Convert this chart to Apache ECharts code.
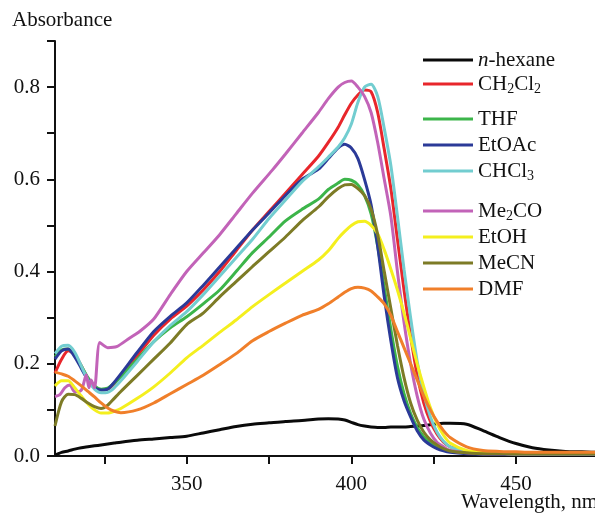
<!DOCTYPE html>
<html><head><meta charset="utf-8">
<script src="https://cdn.jsdelivr.net/npm/echarts@6/dist/echarts.min.js"></script>
<style>html,body{margin:0;padding:0;background:#fff}#c{width:595px;height:513px}</style>
</head><body><div id="c"></div><script>
// ---- data ----
const wavelength = [310,312,314,316,318,320,322,324,326,328,330,335,340,345,350,355,360,365,370,375,380,385,390,393,396,398,400,402,404,406,408,410,412,414,416,418,420,422,424,426,428,430,435,440,445,450,455,460,465,470,475,480];

const hexane = [0.002,0.008,0.011,0.015,0.018,0.02,0.022,0.024,0.026,0.028,0.03,0.034,0.037,0.04,0.043,0.05,0.057,0.064,0.069,0.072,0.075,0.077,0.08,0.081,0.08,0.078,0.073,0.068,0.065,0.063,0.062,0.062,0.063,0.063,0.063,0.064,0.065,0.066,0.068,0.07,0.071,0.071,0.069,0.055,0.04,0.027,0.018,0.013,0.01,0.009,0.008,0.008];
const ch2cl2 = [0.18,0.21,0.228,0.22,0.195,0.168,0.15,0.143,0.145,0.157,0.175,0.218,0.262,0.297,0.325,0.36,0.4,0.445,0.49,0.53,0.57,0.61,0.65,0.68,0.713,0.74,0.765,0.783,0.794,0.79,0.745,0.665,0.58,0.47,0.36,0.26,0.175,0.115,0.075,0.048,0.03,0.02,0.01,0.007,0.006,0.005,0.005,0.005,0.005,0.005,0.005,0.005];
const thf = [0.215,0.23,0.232,0.218,0.195,0.17,0.152,0.145,0.147,0.158,0.172,0.21,0.248,0.278,0.302,0.33,0.36,0.4,0.441,0.475,0.51,0.535,0.557,0.578,0.592,0.6,0.598,0.588,0.565,0.525,0.455,0.365,0.275,0.195,0.135,0.092,0.062,0.042,0.03,0.021,0.015,0.011,0.007,0.005,0.005,0.005,0.005,0.005,0.005,0.005,0.005,0.005];
const etoac = [0.21,0.228,0.232,0.215,0.19,0.165,0.148,0.143,0.145,0.16,0.178,0.225,0.27,0.303,0.332,0.37,0.41,0.45,0.49,0.527,0.565,0.6,0.622,0.645,0.668,0.676,0.668,0.645,0.6,0.545,0.455,0.345,0.25,0.17,0.12,0.085,0.055,0.035,0.024,0.016,0.011,0.008,0.005,0.004,0.004,0.004,0.004,0.004,0.004,0.004,0.004,0.004];
const chcl3 = [0.222,0.238,0.24,0.225,0.195,0.165,0.145,0.137,0.138,0.148,0.163,0.205,0.248,0.283,0.313,0.35,0.39,0.43,0.47,0.515,0.555,0.595,0.627,0.648,0.67,0.69,0.72,0.767,0.8,0.806,0.78,0.71,0.63,0.52,0.405,0.3,0.205,0.135,0.085,0.052,0.032,0.02,0.01,0.007,0.006,0.005,0.005,0.005,0.005,0.005,0.005,0.005];
const etoh = [0.152,0.163,0.163,0.148,0.13,0.113,0.1,0.093,0.093,0.097,0.103,0.125,0.15,0.18,0.213,0.24,0.268,0.295,0.324,0.35,0.375,0.4,0.425,0.445,0.472,0.487,0.5,0.508,0.509,0.5,0.482,0.447,0.405,0.36,0.31,0.255,0.2,0.15,0.105,0.07,0.045,0.028,0.012,0.008,0.006,0.005,0.005,0.005,0.005,0.005,0.005,0.005];
const mecn = [0.065,0.118,0.134,0.133,0.125,0.115,0.107,0.103,0.11,0.125,0.14,0.175,0.21,0.245,0.285,0.31,0.345,0.378,0.411,0.443,0.475,0.51,0.54,0.562,0.58,0.588,0.589,0.58,0.565,0.535,0.48,0.4,0.32,0.24,0.17,0.115,0.078,0.052,0.035,0.024,0.016,0.011,0.007,0.005,0.005,0.005,0.005,0.005,0.005,0.005,0.005,0.005];
const dmf = [0.182,0.178,0.173,0.163,0.152,0.14,0.128,0.115,0.104,0.097,0.094,0.1,0.115,0.135,0.155,0.175,0.198,0.222,0.25,0.27,0.288,0.305,0.318,0.33,0.345,0.355,0.363,0.366,0.364,0.358,0.345,0.33,0.305,0.27,0.235,0.2,0.165,0.13,0.1,0.075,0.055,0.04,0.02,0.012,0.01,0.009,0.008,0.008,0.008,0.008,0.008,0.008];

// Me2CO has its own finer sampling (jagged start)
const me2coWavelength = [310,311.5,313,314.5,316,318,319.5,320.3,321,322,323.6,326,328.7,332.7,335.7,340,345,350,355,360,365,370,376,380,385,390,393,396,398,400,402,404,406,408,410,412,414,416,418,420,422,424,426,428,430,435,440,445,450,460,470,480];
const me2co = [0.129,0.133,0.148,0.154,0.139,0.143,0.176,0.148,0.165,0.148,0.246,0.235,0.237,0.256,0.27,0.297,0.35,0.40,0.44,0.48,0.525,0.57,0.62,0.655,0.70,0.745,0.775,0.80,0.81,0.813,0.8,0.78,0.745,0.68,0.6,0.52,0.4,0.29,0.2,0.13,0.08,0.05,0.03,0.02,0.012,0.007,0.005,0.005,0.005,0.005,0.005,0.005];

const xTickValues = [325,350,375,400,425,450];
const xLabelValues = [350,400,450];

const seriesNames = ['n-hexane','CH2Cl2','THF','EtOAc','CHCl3','Me2CO','EtOH','MeCN','DMF'];
const legendText = {
  'n-hexane': '{i|n}-hexane', 'CH2Cl2': 'CH{s|2}Cl{s|2}', 'THF': 'THF', 'EtOAc': 'EtOAc',
  'CHCl3': 'CHCl{s|3}', 'Me2CO': 'Me{s|2}CO', 'EtOH': 'EtOH', 'MeCN': 'MeCN', 'DMF': 'DMF'
};

// ---- chart ----
const FONT = 'Liberation Serif';
const colors = ['#0a0a0a','#e8262b','#3cb54a','#2b3a98','#72cdd0','#c263b8','#f4ef1e','#7d7b26','#f07f2a'];
const valueSets = [hexane,ch2cl2,thf,etoac,chcl3,null,etoh,mecn,dmf];

const series = seriesNames.map((name,k)=>{
  let data;
  if (name === 'Me2CO') data = me2coWavelength.map((w,i)=>[w, me2co[i]]);
  else data = wavelength.map((w,i)=>[w, valueSets[k][i]]);
  return {
    name, type:'line', data, showSymbol:false, smooth:0.25,
    color: colors[k], lineStyle:{width:3, color: colors[k]}, animation:false
  };
});

const legendCenters = [60,84,119,145,171,211,237,263,289];
const legends = seriesNames.map((name,k)=>({
  data:[name], left:423, top: legendCenters[k]-12, padding:0, orient:'vertical',
  icon:'rect', itemWidth:50, itemHeight:3, selectedMode:false,
  formatter: n => legendText[n],
  textStyle:{fontFamily:FONT, fontSize:21, color:'#111', lineHeight:24,
    rich:{
      i:{fontFamily:FONT, fontSize:21, fontStyle:'italic', color:'#111', lineHeight:24},
      s:{fontFamily:FONT, fontSize:14, color:'#111', lineHeight:2, verticalAlign:'bottom'}
    }}
}));

const chart = echarts.init(document.getElementById('c'), null, {renderer:'canvas'});
chart.setOption({
  animation:false,
  backgroundColor:'#fff',
  grid:{left:55, top:41, right:0, bottom:57, containLabel:false},
  legend: legends,
  xAxis:{
    type:'value', min:310, max:474,
    axisLine:{show:true, lineStyle:{color:'#111', width:2}},
    axisTick:{show:true, length:8, lineStyle:{color:'#111', width:2}, customValues:xTickValues},
    axisLabel:{customValues:xLabelValues, margin:18, fontFamily:FONT, fontSize:21, color:'#111'},
    splitLine:{show:false}
  },
  yAxis:{
    type:'value', min:0, max:0.9, interval:0.1,
    axisLine:{show:true, lineStyle:{color:'#111', width:2}},
    axisTick:{show:true, length:8, lineStyle:{color:'#111', width:2}},
    axisLabel:{margin:15, fontFamily:FONT, fontSize:21, color:'#111',
      formatter: v => (Math.round(v*10)%2===0 ? v.toFixed(1) : '')},
    splitLine:{show:false}
  },
  graphic:[
    {type:'text', left:12, top:10, style:{text:'Absorbance', font:'21px "Liberation Serif"', fill:'#111'}},
    {type:'text', left:461, top:492, style:{text:'Wavelength, nm', font:'21px "Liberation Serif"', fill:'#111'}}
  ],
  series
});
</script></body></html>
